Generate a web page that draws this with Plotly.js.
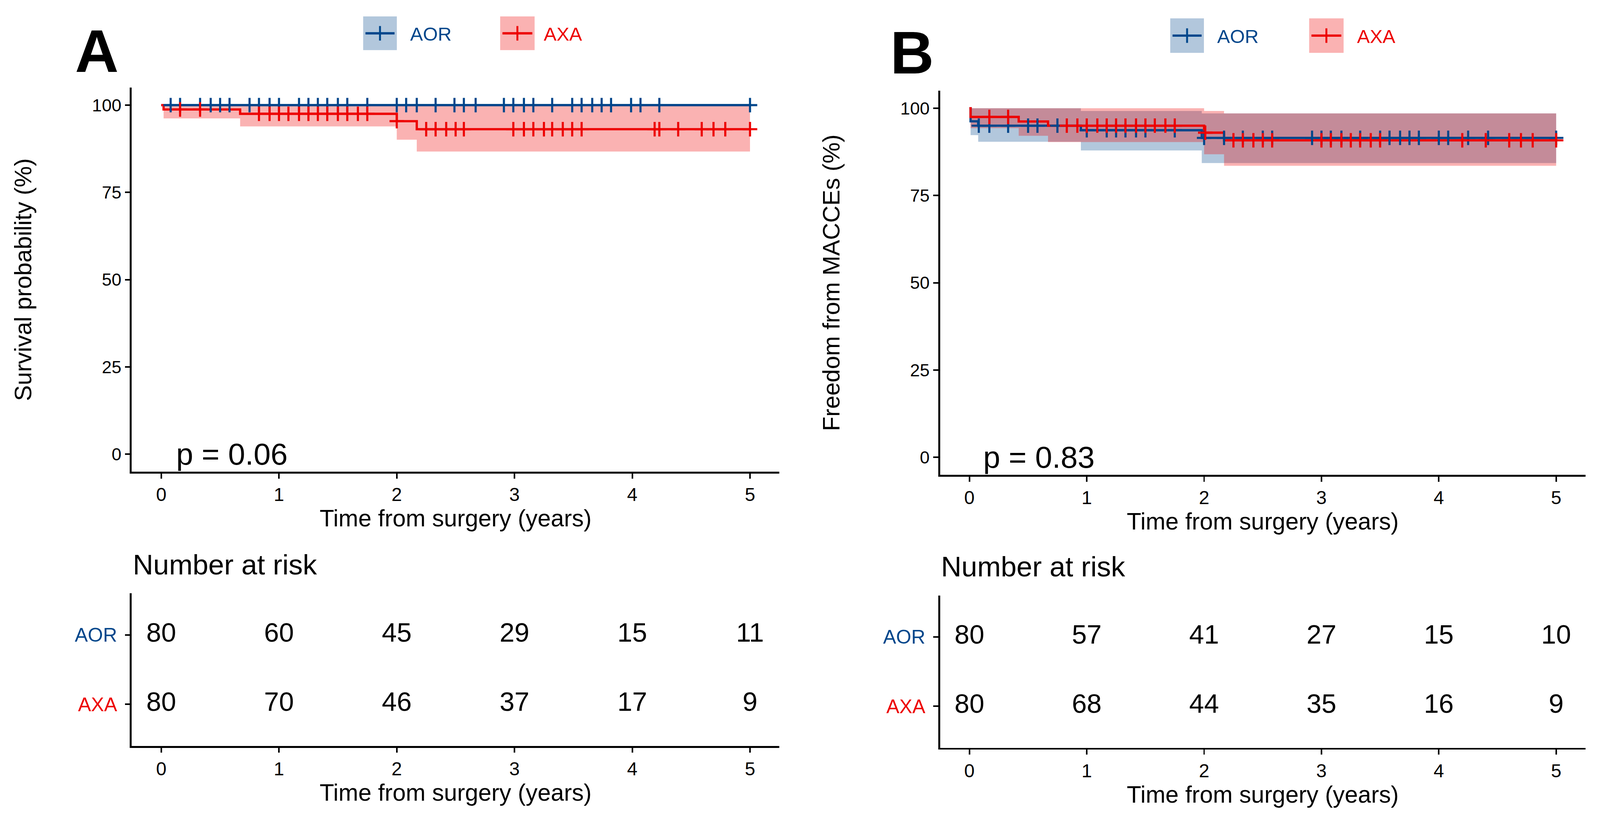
<!DOCTYPE html>
<html>
<head>
<meta charset="utf-8">
<script src="https://cdn.plot.ly/plotly-3.0.1.min.js"></script>
<style>html,body{margin:0;padding:0;background:#fff;overflow:hidden;}#chart{width:100vw;}</style>
</head>
<body>
<div id="chart"></div>
<script>
// ---------------- DATA ----------------
const groups = ['AOR', 'AXA'];
const riskTimes = [0, 1, 2, 3, 4, 5];
const xTicks = [0, 1, 2, 3, 4, 5];
const yTicks = [0, 25, 50, 75, 100];

// Panel A : overall survival
const A_AOR_time  = [0, 5];
const A_AOR_surv  = [100, 100];
const A_AOR_lower = [100, 100];
const A_AOR_upper = [100, 100];
const A_AOR_censor = [0.08, 0.16, 0.33, 0.42, 0.50, 0.58, 0.75, 0.83, 0.92, 1.00, 1.17, 1.25, 1.33, 1.41, 1.50, 1.58, 1.75, 2.00, 2.08, 2.17, 2.33, 2.49, 2.57, 2.67, 2.91, 2.99, 3.08, 3.16, 3.32, 3.49, 3.57, 3.66, 3.74, 3.82, 3.99, 4.07, 4.23, 5.00];

const A_AXA_time  = [0, 0.02, 0.67, 2.00, 2.17, 5.00];
const A_AXA_surv  = [100, 98.75, 97.5, 95.4, 93.1, 93.1];
const A_AXA_lower = [100, 96.2, 93.9, 90.1, 86.7, 86.7];
const A_AXA_upper = [100, 100, 100, 100, 100, 100];
const A_AXA_censor = [0.16, 0.33, 0.83, 0.92, 1.00, 1.08, 1.17, 1.25, 1.33, 1.41, 1.50, 1.58, 1.67, 1.75, 2.00, 2.25, 2.33, 2.42, 2.50, 2.57, 2.99, 3.08, 3.16, 3.25, 3.32, 3.41, 3.49, 3.57, 4.19, 4.23, 4.39, 4.59, 4.69, 4.79, 5.00];

const A_risk_AOR = [80, 60, 45, 29, 15, 11];
const A_risk_AXA = [80, 70, 46, 37, 17, 9];
const A_pval = 'p = 0.06';

// Panel B : freedom from MACCEs
const B_AOR_time  = [0, 0.01, 0.075, 0.95, 1.98, 5.00];
const B_AOR_surv  = [100, 96.25, 95.0, 93.7, 91.5, 91.5];
const B_AOR_lower = [100, 92.3, 90.4, 87.9, 84.3, 84.3];
const B_AOR_upper = [100, 100, 100, 99.2, 98.5, 98.5];
const B_AOR_censor = [0.08, 0.17, 0.33, 0.50, 0.58, 0.75, 1.00, 1.17, 1.25, 1.33, 1.42, 1.50, 1.75, 2.00, 2.17, 2.33, 2.50, 2.58, 2.92, 3.00, 3.08, 3.17, 3.33, 3.50, 3.58, 3.67, 3.75, 3.83, 4.00, 4.08, 4.25, 4.42, 5.00];

const B_AXA_time  = [0, 0.01, 0.42, 0.67, 2.00, 2.17, 5.00];
const B_AXA_surv  = [100, 97.5, 96.2, 95.0, 93.0, 90.8, 90.8];
const B_AXA_lower = [100, 94.3, 92.1, 90.3, 86.8, 83.5, 83.5];
const B_AXA_upper = [100, 100, 100, 100, 99.2, 98.5, 98.5];
const B_AXA_censor = [0.17, 0.33, 0.83, 0.92, 1.00, 1.09, 1.17, 1.25, 1.33, 1.42, 1.50, 1.58, 1.67, 1.75, 2.01, 2.25, 2.33, 2.42, 2.50, 2.58, 3.00, 3.08, 3.17, 3.25, 3.33, 3.42, 3.50, 4.20, 4.40, 4.60, 4.70, 4.80, 5.00];

const B_risk_AOR = [80, 57, 41, 27, 15, 10];
const B_risk_AXA = [80, 68, 44, 35, 16, 9];
const B_pval = 'p = 0.83';

// ---------------- STYLE ----------------
const W = 4181, H = 2147;                      // design size of the figure
const VW = window.innerWidth || W;
const S = VW / W;                              // uniform scale to the viewport width
const VH = Math.round(H * S);
document.getElementById('chart').style.height = VH + 'px';
const z = v => v * S;
const FONT = 'Liberation Sans, Arial, Helvetica, sans-serif';
const COL = {AOR: '#00468B', AXA: '#ED0000'};
const FILL = {AOR: 'rgba(0,70,139,0.3)', AXA: 'rgba(237,0,0,0.3)'};
const px = v => v / W;
const py = v => 1 - v / H;

function stepAt(times, surv, t) {
  let v = surv[0];
  for (let i = 0; i < times.length; i++) if (times[i] <= t) v = surv[i];
  return v;
}

const traces = [];
function addPanel(xa, ya, d) {
  groups.forEach(g => {
    const s = d[g];
    traces.push({x: s.time, y: s.lower, xaxis: xa, yaxis: ya, type: 'scatter', mode: 'lines',
      line: {shape: 'hv', width: 0, color: FILL[g]}, showlegend: false, hoverinfo: 'skip'});
    traces.push({x: s.time, y: s.upper, xaxis: xa, yaxis: ya, type: 'scatter', mode: 'lines',
      line: {shape: 'hv', width: 0, color: FILL[g]}, fill: 'tonexty', fillcolor: FILL[g],
      showlegend: false, hoverinfo: 'skip'});
  });
  groups.forEach(g => {
    const s = d[g];
    traces.push({x: s.time, y: s.surv, xaxis: xa, yaxis: ya, type: 'scatter', mode: 'lines',
      line: {shape: 'hv', width: z(6), color: COL[g]}, name: g, showlegend: false});
  });
  groups.forEach(g => {
    const s = d[g];
    traces.push({x: s.censor, y: s.censor.map(t => stepAt(s.time, s.surv, t)), xaxis: xa, yaxis: ya,
      type: 'scatter', mode: 'markers', showlegend: false,
      marker: {symbol: 'cross-thin', size: z(27), color: COL[g], line: {width: z(5.5), color: COL[g]}}});
  });
}
function addRisk(xa, ya, aor, axa) {
  traces.push({x: riskTimes, y: riskTimes.map(() => 'AOR'), text: aor.map(String), mode: 'text', type: 'scatter',
    xaxis: xa, yaxis: ya, textfont: {family: FONT, size: z(70), color: '#000'}, showlegend: false});
  traces.push({x: riskTimes, y: riskTimes.map(() => 'AXA'), text: axa.map(String), mode: 'text', type: 'scatter',
    xaxis: xa, yaxis: ya, textfont: {family: FONT, size: z(70), color: '#000'}, showlegend: false});
}

addPanel('x', 'y', {
  AOR: {time: A_AOR_time, surv: A_AOR_surv, lower: A_AOR_lower, upper: A_AOR_upper, censor: A_AOR_censor},
  AXA: {time: A_AXA_time, surv: A_AXA_surv, lower: A_AXA_lower, upper: A_AXA_upper, censor: A_AXA_censor}
});
addRisk('x2', 'y2', A_risk_AOR, A_risk_AXA);
addPanel('x3', 'y3', {
  AOR: {time: B_AOR_time, surv: B_AOR_surv, lower: B_AOR_lower, upper: B_AOR_upper, censor: B_AOR_censor},
  AXA: {time: B_AXA_time, surv: B_AXA_surv, lower: B_AXA_lower, upper: B_AXA_upper, censor: B_AXA_censor}
});
addRisk('x4', 'y4', B_risk_AOR, B_risk_AXA);

// ---------------- AXES ----------------
const tickFont = {family: FONT, size: z(49), color: '#000'};
const titleFont = {family: FONT, size: z(62), color: '#000'};
function xAxis(domain, anchor) {
  return {domain: domain, anchor: anchor, range: [-0.25, 5.25], tickmode: 'array', tickvals: xTicks,
    ticktext: xTicks.map(String), showline: true, linecolor: '#000', linewidth: z(5), ticks: 'outside',
    ticklen: z(13), tickwidth: z(4), tickcolor: '#000', showgrid: false, zeroline: false, tickfont: tickFont,
    title: {text: 'Time from surgery (years)', font: titleFont, standoff: z(12)}};
}
function yAxis(domain, anchor, title) {
  return {domain: domain, anchor: anchor, range: [-5, 105], tickmode: 'array', tickvals: yTicks,
    ticktext: yTicks.map(String), showline: true, linecolor: '#000', linewidth: z(5), ticks: 'outside',
    ticklen: z(13), tickwidth: z(4), tickcolor: '#000', showgrid: false, zeroline: false,
    tickfont: {family: FONT, size: z(46), color: '#000'},
    title: {text: title, font: titleFont, standoff: z(140)}};
}
function riskY(domain, anchor) {
  return {domain: domain, anchor: anchor, type: 'category', categoryarray: ['AXA', 'AOR'],
    categoryorder: 'array', range: [-0.6, 1.6], tickmode: 'array', tickvals: ['AOR', 'AXA'],
    ticktext: ['<span style="color:' + COL.AOR + '">AOR\u2009</span>', '<span style="color:' + COL.AXA + '">AXA\u2009</span>'],
    showline: true, linecolor: '#000', linewidth: z(5), ticks: 'outside', ticklen: z(13), tickwidth: z(4),
    tickcolor: '#000', showgrid: false, zeroline: false, tickfont: {family: FONT, size: z(51)}};
}

const dA = [px(344.4), px(2036.8)];
const dB = [px(2456.5), px(4143.1)];

// ---------------- LEGEND / LABELS ----------------
const shapes = [];
const annotations = [];
function legendItem(x0, x1, y0, y1, g, textLeft) {
  const cx = (x0 + x1) / 2, cy = (y0 + y1) / 2;
  shapes.push({type: 'rect', xref: 'paper', yref: 'paper', x0: px(x0), x1: px(x1), y0: py(y1), y1: py(y0),
    fillcolor: FILL[g], line: {width: 0}});
  shapes.push({type: 'line', xref: 'paper', yref: 'paper', x0: px(x0 + 6), x1: px(x1 - 6), y0: py(cy), y1: py(cy),
    line: {color: COL[g], width: z(6)}});
  shapes.push({type: 'line', xref: 'paper', yref: 'paper', x0: px(cx), x1: px(cx), y0: py(cy - 19), y1: py(cy + 19),
    line: {color: COL[g], width: z(5)}});
  annotations.push({xref: 'paper', yref: 'paper', x: px(textLeft), y: py(cy + 2), xanchor: 'left', yanchor: 'middle',
    text: g, showarrow: false, font: {family: FONT, size: z(50), color: COL[g]}});
}
legendItem(949, 1037, 43, 131, 'AOR', 1070);
legendItem(1307, 1397, 43, 131, 'AXA', 1419);
legendItem(3058, 3146, 48, 138, 'AOR', 3179);
legendItem(3421, 3511, 48, 138, 'AXA', 3544);

annotations.push({xref: 'paper', yref: 'paper', x: px(253), y: py(133), xanchor: 'center', yanchor: 'middle',
  text: '<b>A</b>', showarrow: false, font: {family: FONT, size: z(158), color: '#000'}});
annotations.push({xref: 'paper', yref: 'paper', x: px(2383), y: py(137), xanchor: 'center', yanchor: 'middle',
  text: '<b>B</b>', showarrow: false, font: {family: FONT, size: z(158), color: '#000'}});
annotations.push({xref: 'x', yref: 'y', x: 0.12, y: 0, xanchor: 'left', yanchor: 'middle', text: A_pval,
  showarrow: false, font: {family: FONT, size: z(80), color: '#000'}});
annotations.push({xref: 'x3', yref: 'y3', x: 0.11, y: 0, xanchor: 'left', yanchor: 'middle', text: B_pval,
  showarrow: false, font: {family: FONT, size: z(80), color: '#000'}});
annotations.push({xref: 'paper', yref: 'paper', x: px(345), y: py(1475), xanchor: 'left', yanchor: 'middle',
  text: 'Number at risk', showarrow: false, font: {family: FONT, size: z(74), color: '#000'}});
annotations.push({xref: 'paper', yref: 'paper', x: px(2457), y: py(1480), xanchor: 'left', yanchor: 'middle',
  text: 'Number at risk', showarrow: false, font: {family: FONT, size: z(74), color: '#000'}});

const layout = {
  width: VW, height: VH, margin: {l: 0, r: 0, t: 0, b: 0}, paper_bgcolor: '#fff', plot_bgcolor: 'rgba(0,0,0,0)',
  showlegend: false, font: {family: FONT},
  xaxis: xAxis(dA, 'y'),
  yaxis: yAxis([py(1232.2), py(229)], 'x', 'Survival probability (%)'),
  xaxis2: xAxis(dA, 'y2'),
  yaxis2: riskY([py(1948.8), py(1549.8)], 'x2'),
  xaxis3: xAxis(dB, 'y3'),
  yaxis3: yAxis([py(1240.4), py(237.1)], 'x3', 'Freedom from MACCEs (%)'),
  xaxis4: xAxis(dB, 'y4'),
  yaxis4: riskY([py(1953.6), py(1555.4)], 'x4'),
  shapes: shapes, annotations: annotations
};

Plotly.newPlot('chart', traces, layout, {displayModeBar: false, staticPlot: true});
</script>
</body>
</html>
